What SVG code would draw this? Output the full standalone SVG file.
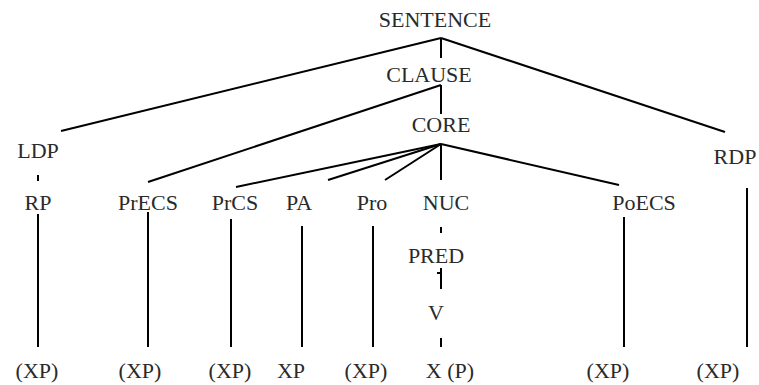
<svg xmlns="http://www.w3.org/2000/svg" width="759" height="385" viewBox="0 0 759 385">
  <style>
    .lbl { font-family: "Liberation Serif", "Times New Roman", Tinos, "DejaVu Serif", serif; font-size: 22px; fill: #2a2a2a; text-anchor: middle; }
    .edge { stroke: #000; stroke-width: 2; fill: none; stroke-linecap: butt; }
  </style>
  <rect width="759" height="385" fill="#fff"/>

  <!-- tree branches -->
  <g id="connectors">
    <!-- SENTENCE -->
    <path class="edge" d="M441,38 L61,131"/>
    <path class="edge" d="M441,38 L725,132"/>
    <path class="edge" d="M441,38 L441,58"/>
    <!-- CLAUSE -->
    <path class="edge" d="M441,85 L148,182"/>
    <path class="edge" d="M441,85 L441,114"/>
    <!-- CORE -->
    <path class="edge" d="M441,144 L236,187"/>
    <path class="edge" d="M441,144 L328,180"/>
    <path class="edge" d="M441,144 L385,180"/>
    <path class="edge" d="M441,144 L441,180"/>
    <path class="edge" d="M441,144 L619,185"/>
    <!-- detached positions -->
    <path class="edge" d="M38,175 L38,181"/>
    <path class="edge" d="M747,188 L747,347"/>
    <!-- slots down to phrases -->
    <path class="edge" d="M38,214 L38,347"/>
    <path class="edge" d="M148,212 L148,347"/>
    <path class="edge" d="M231,219 L231,347"/>
    <path class="edge" d="M302,226 L302,347"/>
    <path class="edge" d="M373,226 L373,347"/>
    <path class="edge" d="M624,217 L624,347"/>
    <!-- nucleus chain -->
    <path class="edge" d="M441,227 L441,233"/>
    <path class="edge" d="M441,268 L441,289 M437,273 L441,273"/>
    <path class="edge" d="M441,338 L441,347"/>
  </g>

  <g id="sentence"><text class="lbl" x="435" y="27">SENTENCE</text></g>
  <g id="clause"><text class="lbl" x="429" y="82">CLAUSE</text></g>
  <g id="core"><text class="lbl" x="441" y="132">CORE</text></g>
  <g id="ldp"><text class="lbl" x="38" y="158">LDP</text></g>
  <g id="rdp"><text class="lbl" x="735" y="164">RDP</text></g>

  <g id="rp"><text class="lbl" x="38" y="210">RP</text></g>
  <g id="precs"><text class="lbl" x="148" y="210">PrECS</text></g>
  <g id="prcs"><text class="lbl" x="235" y="210">PrCS</text></g>
  <g id="pa"><text class="lbl" x="299" y="210">PA</text></g>
  <g id="pro"><text class="lbl" x="372" y="210">Pro</text></g>
  <g id="nuc"><text class="lbl" x="446" y="210">NUC</text></g>
  <g id="poecs"><text class="lbl" x="644" y="210">PoECS</text></g>

  <g id="pred"><text class="lbl" x="436" y="263">PRED</text></g>
  <g id="v"><text class="lbl" x="436" y="320">V</text></g>

  <g id="leaf-rp"><text class="lbl" x="37" y="378">(XP)</text></g>
  <g id="leaf-precs"><text class="lbl" x="140" y="378">(XP)</text></g>
  <g id="leaf-prcs"><text class="lbl" x="230" y="378">(XP)</text></g>
  <g id="leaf-pa"><text class="lbl" x="291" y="378">XP</text></g>
  <g id="leaf-pro"><text class="lbl" x="366" y="378">(XP)</text></g>
  <g id="leaf-nuc"><text class="lbl" x="450" y="378">X (P)</text></g>
  <g id="leaf-poecs"><text class="lbl" x="608" y="378">(XP)</text></g>
  <g id="leaf-rdp"><text class="lbl" x="718" y="378">(XP)</text></g>
</svg>
